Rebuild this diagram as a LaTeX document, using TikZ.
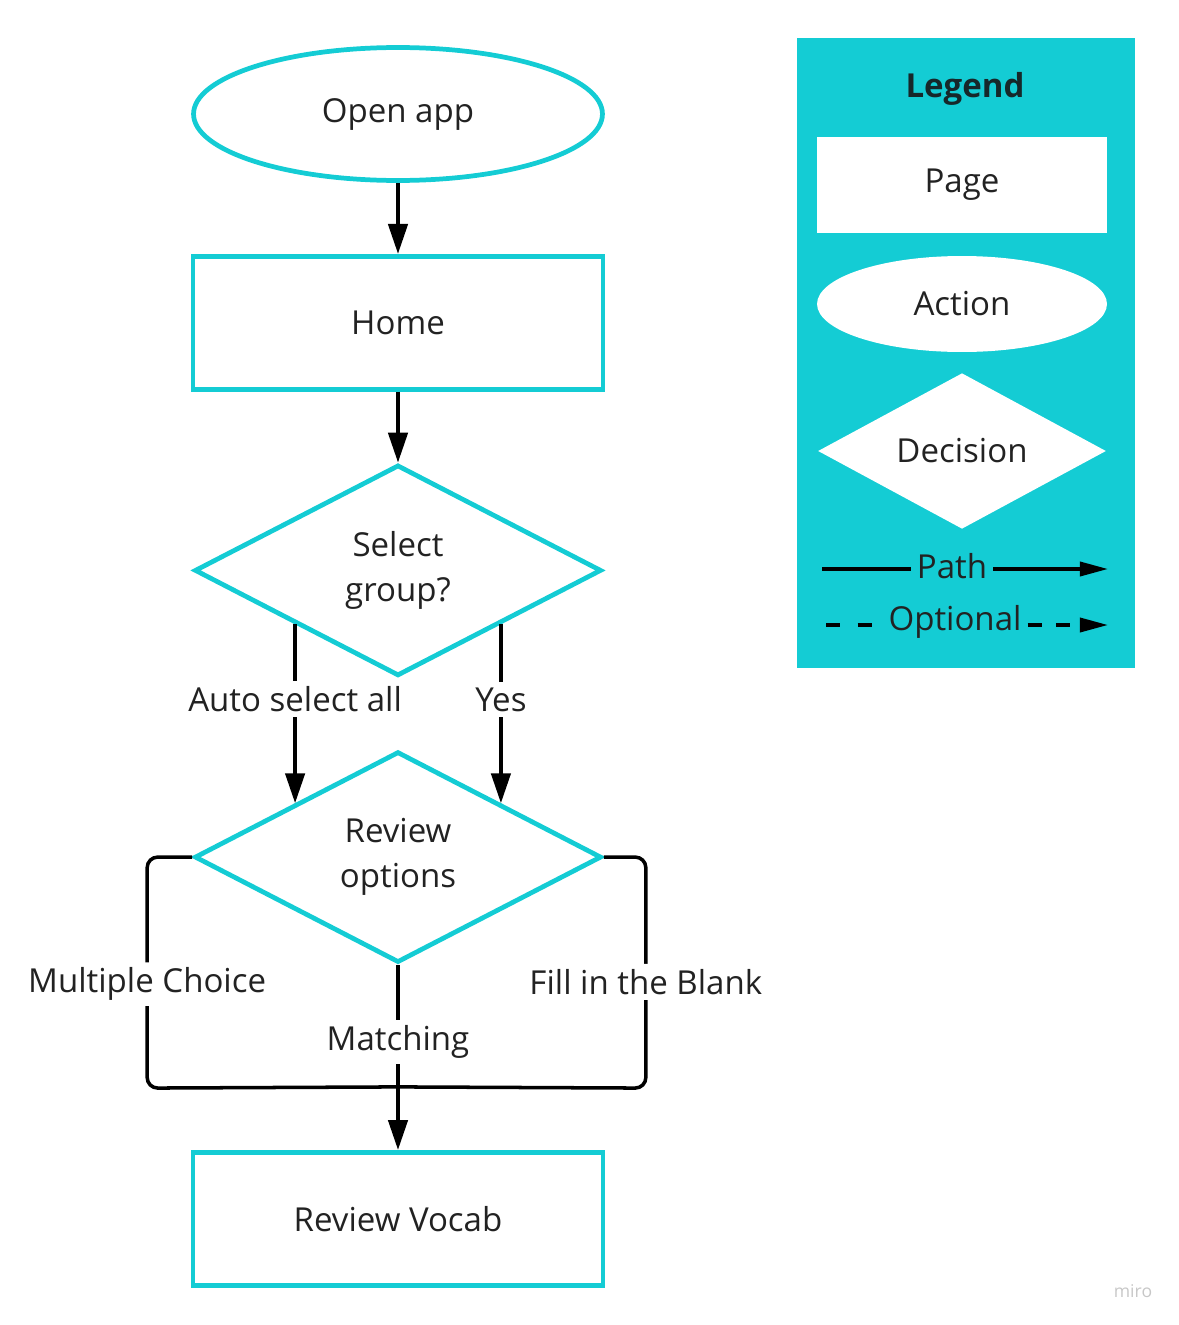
\documentclass[tikz,border=0pt]{standalone}
\usepackage{fontspec}
\setmainfont{Open Sans}
\usepackage{xcolor}
\usetikzlibrary{shapes.geometric,arrows.meta,positioning,calc}

\definecolor{miroteal}{RGB}{20,204,212}
\definecolor{inkgray}{RGB}{34,34,34}
\definecolor{titleink}{RGB}{22,40,42}

\tikzset{
  page/.style={rectangle, draw=miroteal, line width=2.7pt, minimum width=8.2cm, minimum height=2.66cm},
  action/.style={ellipse, draw=miroteal, line width=2.7pt, minimum width=8.18cm, minimum height=2.66cm},
  decision/.style={diamond, draw=miroteal, line width=2.7pt, minimum width=8.14cm, minimum height=4.22cm, inner sep=0pt, align=center},
  line/.style={line width=2pt},
  flow/.style={line, -{Triangle[length=17pt,width=11pt]}},
  keyflow/.style={line, -{Triangle[length=16pt,width=8pt]}},
  lbl/.style={fill=white, inner sep=3pt},
}

\begin{document}
\begin{tikzpicture}[x=0.02cm, y=-0.02cm, node distance=1.42cm, font=\fontsize{18.8}{25.6}\selectfont, text=inkgray]
    \useasboundingbox (0,0) rectangle (1179,1325);

    \node (open) [action] at (398,114) {Open app};
    \node (home) [page, below=of open] {Home};
    \node (group) [decision, below=of home] {Select\\group?};
    \node (opts) [decision, below=of group] {Review\\options};
    \node (vocab) [page, below=3.7cm of opts] {Review Vocab};
    \coordinate (merge) at ($(vocab.north)+(0,-63)$);

    \draw [flow] (open) -- (home);
    \draw [flow] (home) -- (group);
    \draw [flow] ($(group.west)!.5!(group.south)$) -- node [lbl, pos=.42] {Auto select all} ($(opts.west)!.5!(opts.north)$);
    \draw [flow] ($(group.east)!.5!(group.south)$) -- node [lbl, pos=.42] {Yes} ($(opts.east)!.5!(opts.north)$);
    \draw [line, rounded corners=6pt] (opts.west) -- ++(-45,0) -- node [lbl, pos=.55] {Multiple Choice} ++(0,231) -- (merge);
    \draw [line, rounded corners=6pt] (opts.east) -- ++(42,0) -- node [lbl, pos=.54] {Fill in the Blank} ++(0,231) -- (merge);
    \draw [line] (opts.south) -- node [lbl, pos=.63] {Matching} (merge);
    \draw [flow] (merge) -- (vocab);

    % legend
    \node (legend) [fill=miroteal, minimum width=6.76cm, minimum height=12.62cm] at (966,353) {};
    \node (title) [font=\fontsize{18.8}{22}\selectfont\bfseries, text=titleink] at (965,89) {Legend};
    \node (keypage) [fill=white, minimum width=5.8cm, minimum height=1.92cm] at (962,185) {Page};
    \node (keyaction) [ellipse, fill=white, minimum width=5.8cm, minimum height=1.92cm] at (962,304) {Action};
    \node (keydecision) [diamond, fill=white, minimum width=5.76cm, minimum height=3cm, inner sep=0pt] at (962,451) {Decision};

    \node (path) at (952,566) {Path};
    \coordinate (pathL) at (822,569);
    \coordinate (pathR) at (1108,569);
    \draw [line] (pathL) -- (pathL -| path.west);
    \draw [keyflow] (pathR -| path.east) -- (pathR);

    \node (optional) at (955,622) {Optional};
    \coordinate (optL) at (826,625);
    \coordinate (optR) at (1108,625);
    \draw [line, dash pattern=on 8pt off 10pt] (optL) -- (optL -| optional.west);
    \draw [keyflow, dash pattern=on 8pt off 8pt] (optR -| optional.east) -- (optR);

    \node (miro) [font=\fontsize{10}{12}\selectfont, text=black!22] at (1133,1291) {miro};
\end{tikzpicture}
\end{document}
